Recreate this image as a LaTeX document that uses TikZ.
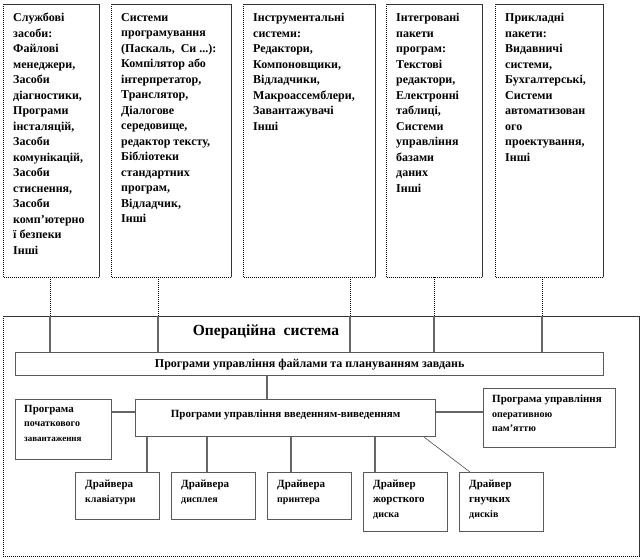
\documentclass[tikz,border=0pt]{standalone}
\usepackage{fontspec}
\setmainfont{Liberation Serif}
\usetikzlibrary{calc}
\begin{document}
\begin{tikzpicture}[x=1pt,y=-1pt,
  topbox/.style={draw=none,inner sep=0pt,anchor=north west},
  osbox/.style={draw=black!65,line width=1.3pt,inner sep=0pt,anchor=north west},
  toptxt/.style={inner sep=0pt,anchor=north west,align=left,font=\bfseries\fontsize{12}{15.5}\selectfont},
  boxtxt/.style={inner sep=0pt,align=left,font=\bfseries\fontsize{11}{14.5}\selectfont},
  drvtxt/.style={inner sep=0pt,anchor=north west,align=left,font=\bfseries\fontsize{11}{15}\selectfont},
  dotline/.style={densely dotted,line width=1pt,black},
  conn/.style={draw=black!60,line width=1.3pt},
  diag/.style={draw=black!70,line width=0.6pt}]
\useasboundingbox (0,0) rectangle (642,558);
% top boxes
\node[topbox,minimum width=96pt,minimum height=273pt] (b1) at (3,4) {};
\node[topbox,minimum width=120pt,minimum height=273pt] (b2) at (111,4) {};
\node[topbox,minimum width=132pt,minimum height=273pt] (b3) at (243,4) {};
\node[topbox,minimum width=96pt,minimum height=273pt] (b4) at (386,4) {};
\node[topbox,minimum width=108pt,minimum height=273pt] (b5) at (495,4) {};
\foreach \b in {b1,b2,b3,b4,b5}{
  \draw[dotline] (\b.north west) -- (\b.south west) -- (\b.south east);
  \draw[black!80,line width=0.9pt] (\b.south east) -- (\b.north east) -- (\b.north west);
}
\node[toptxt] (t1) at ($(b1.north west)+(10,9)$) {Службові\\засоби:\\Файлові\\менеджери,\\Засоби\\діагностики,\\Програми\\інсталяцій,\\Засоби\\комунікацій,\\Засоби\\стиснення,\\Засоби\\комп'ютерно\\ї безпеки\\Інші};
\node[toptxt] (t2) at ($(b2.north west)+(10,9)$) {Системи\\програмування\\(Паскаль,\ \ Си ...):\\Компілятор або\\інтерпретатор,\\Транслятор,\\Діалогове\\середовище,\\редактор тексту,\\Бібліотеки\\стандартних\\програм,\\Відладчик,\\Інші};
\node[toptxt] (t3) at ($(b3.north west)+(10,9)$) {Інструментальні\\системи:\\Редактори,\\Компоновщики,\\Відладчики,\\Макроассемблери,\\Завантажувачі\\Інші};
\node[toptxt] (t4) at ($(b4.north west)+(10,9)$) {Інтегровані\\пакети\\програм:\\Текстові\\редактори,\\Електронні\\таблиці,\\Системи\\управління\\базами\\даних\\Інші};
\node[toptxt] (t5) at ($(b5.north west)+(10,9)$) {Прикладні\\пакети:\\Видавничі\\системи,\\Бухгалтерські,\\Системи\\автоматизован\\ого\\проектування,\\Інші};
% OS outer box
\node[topbox,minimum width=636pt,minimum height=240pt] (os) at (3,316) {};
\draw[dotline] (os.north west) -- (os.south west) -- (os.south east);
\draw[black!80,line width=0.9pt] (os.south east) -- (os.north east) -- (os.north west);
\node[inner sep=0pt,font=\bfseries\fontsize{15.5}{18}\selectfont] (title) at (266,332) {Операційна\ \ система};
% inner boxes
\node[osbox,minimum width=588pt,minimum height=23pt] (fm) at (15,352) {};
\node[boxtxt,font=\bfseries\fontsize{12}{14.5}\selectfont] at (fm.center) {Програми управління файлами та плануванням завдань};
\node[osbox,minimum width=300pt,minimum height=37pt] (io) at (135,399) {};
\node[boxtxt] at ($(io.center)+(0,-3)$) {Програми управління введенням-виведенням};
\node[osbox,minimum width=96pt,minimum height=60pt] (boot) at (15,399) {};
\node[boxtxt,anchor=north west] at ($(boot.north west)+(9,6)$) {Програма\\\fontsize{10}{14.5}\selectfont початкового\\\fontsize{9}{14.5}\selectfont завантаження};
\node[osbox,minimum width=132pt,minimum height=59pt] (mem) at (483,388) {};
\node[boxtxt,anchor=north west] at ($(mem.north west)+(9,7)$) {Програма управління\\\fontsize{10}{14.5}\selectfont оперативною\\\fontsize{10}{14.5}\selectfont пам'яттю};
\node[osbox,minimum width=84pt,minimum height=47pt] (da) at (75,472) {};
\node[osbox,minimum width=84pt,minimum height=47pt] (db) at (171,472) {};
\node[osbox,minimum width=84pt,minimum height=47pt] (dc) at (267,472) {};
\node[osbox,minimum width=84pt,minimum height=59pt] (dd) at (363,472) {};
\node[osbox,minimum width=84pt,minimum height=59pt] (de) at (459,472) {};
\node[drvtxt] at ($(da.north west)+(10,8)$) {Драйвера\\\fontsize{10}{21}\selectfont клавіатури};
\node[drvtxt] at ($(db.north west)+(10,8)$) {Драйвера\\\fontsize{10}{21}\selectfont дисплея};
\node[drvtxt] at ($(dc.north west)+(10,8)$) {Драйвера\\\fontsize{10}{21}\selectfont принтера};
\node[drvtxt] at ($(dd.north west)+(10,8)$) {Драйвер\\жорсткого\\\fontsize{10}{15}\selectfont диска};
\node[drvtxt] at ($(de.north west)+(10,8)$) {Драйвер\\гнучких\\\fontsize{10}{15}\selectfont дисків};
% connectors from top boxes
\foreach \b/\dx in {b1/47,b2/47,b3/107,b4/48,b5/47}{
  \draw[dotline] ($(\b.south west)+(\dx,0)$) coordinate (s\b) -- (s\b |- os.north) coordinate (o\b);
  \draw[conn] (o\b) -- (o\b |- fm.north);
}
% inner connectors
\draw[conn] ($(io.north west)+(132,0)$) coordinate (iof) -- (iof |- fm.south);
\draw[conn] ($(io.north west)+(0,13)$) coordinate (iol) -- (iol -| boot.east);
\draw[conn] ($(io.north east)+(0,13)$) coordinate (ior) -- (ior -| mem.west);
\draw[conn] ($(da.north west)+(72,0)$) coordinate (pa) -- (pa |- io.south);
\draw[conn] ($(db.north west)+(36,0)$) coordinate (pb) -- (pb |- io.south);
\draw[conn] ($(dc.north west)+(24,0)$) coordinate (pc) -- (pc |- io.south);
\draw[conn] ($(dd.north west)+(12,0)$) coordinate (pd) -- (pd |- io.south);
\draw[diag] ($(de.north west)+(11,0)$) coordinate (pe) -- ($(io.south east)+(-12,0)$);
\end{tikzpicture}
\end{document}
